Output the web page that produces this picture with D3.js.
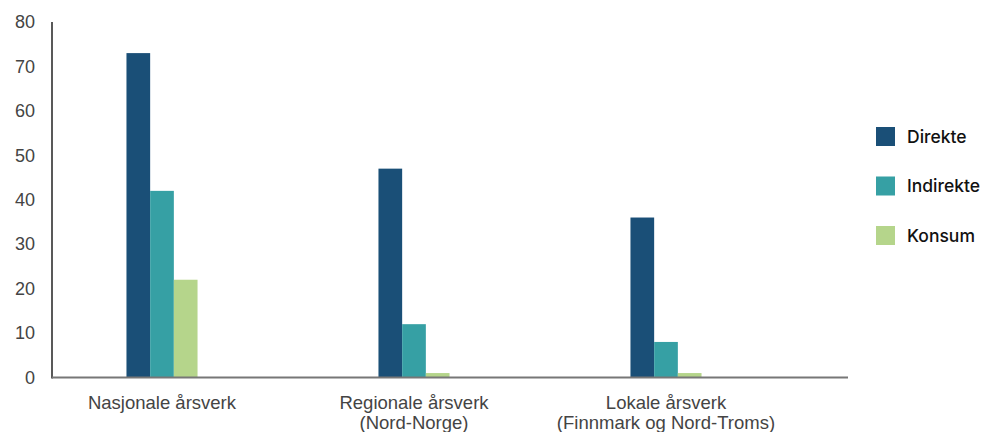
<!DOCTYPE html>
<html>
<head>
<meta charset="utf-8">
<script src="https://cdn.jsdelivr.net/npm/d3@7"></script>
<style>
  html, body { margin: 0; padding: 0; background: #fff; }
  svg { display: block; }
</style>
</head>
<body>
<div id="chart"></div>
<script>
// ---- data ----
const categories = [
  ["Nasjonale årsverk"],
  ["Regionale årsverk", "(Nord-Norge)"],
  ["Lokale årsverk", "(Finnmark og Nord-Troms)"]
];
const seriesNames = ["Direkte", "Indirekte", "Konsum"];
const direkte   = [73, 47, 36];
const indirekte = [42, 12, 8];
const konsum    = [22, 1, 1];
const yTicks = [0, 10, 20, 30, 40, 50, 60, 70, 80];
const colors = ["#1a4f77", "#36a0a4", "#b5d58b"];

const seriesValues = [direkte, indirekte, konsum];
const catKeys = categories.map(c => c.join(" "));
const rows = catKeys.map((k, i) => ({
  key: k, lines: categories[i],
  values: seriesNames.map((s, j) => ({ series: s, value: seriesValues[j][i], color: colors[j] }))
}));

const W = 983, H = 432;
const svg = d3.select("#chart").append("svg").attr("width", W).attr("height", H);

const plotLeft = 52, plotRight = 848;
const y = d3.scaleLinear().domain([0, 80]).range([377.5, 22]);
const x0 = d3.scaleBand().domain(catKeys).range([36, 792]).padding(0);
const groupW = x0.bandwidth() * 0.282;
const x1 = d3.scaleBand().domain(seriesNames).range([0, groupW]).padding(0);

// bars
const g = svg.append("g");
g.selectAll("g.grp").data(rows).join("g")
  .attr("class", "grp")
  .attr("transform", d => `translate(${x0(d.key) + (x0.bandwidth() - groupW) / 2},0)`)
  .selectAll("rect").data(d => d.values).join("rect")
  .attr("x", d => x1(d.series))
  .attr("width", x1.bandwidth())
  .attr("y", d => y(d.value))
  .attr("height", d => y(0) - y(d.value))
  .attr("fill", d => d.color);

// y axis
const yAxis = d3.axisLeft(y).tickValues(yTicks).tickSize(0).tickPadding(17);
const ya = svg.append("g").attr("transform", `translate(${plotLeft},0)`).call(yAxis);
ya.select(".domain").remove();
ya.selectAll("text")
  .attr("font-family", "'Liberation Sans', Arial, sans-serif")
  .attr("font-size", 18).attr("fill", "#444");
svg.append("line")
  .attr("x1", plotLeft).attr("x2", plotLeft)
  .attr("y1", y(80)).attr("y2", y(0) + 1)
  .attr("stroke", "#222").attr("stroke-width", 1.5);

// x axis line
svg.append("line")
  .attr("x1", plotLeft).attr("x2", plotRight)
  .attr("y1", y(0)).attr("y2", y(0))
  .attr("stroke", "#777").attr("stroke-width", 2);

// x labels
const xl = svg.append("g");
rows.forEach(r => {
  const t = xl.append("text")
    .attr("x", x0(r.key) + x0.bandwidth() / 2)
    .attr("y", 409)
    .attr("text-anchor", "middle")
    .attr("font-family", "'Liberation Sans', Arial, sans-serif")
    .attr("font-size", 18.5).attr("fill", "#444");
  r.lines.forEach((l, i) => {
    t.append("tspan").attr("x", x0(r.key) + x0.bandwidth() / 2)
      .attr("dy", i === 0 ? 0 : 19.5).text(l);
  });
});

// legend
const leg = svg.append("g").attr("transform", "translate(876,127)");
const li = leg.selectAll("g").data(seriesNames).join("g")
  .attr("transform", (d, i) => `translate(0,${i * 49.5})`);
li.append("rect").attr("width", 19).attr("height", 19).attr("fill", (d, i) => colors[i]);
li.append("text").attr("x", 31).attr("y", 9.5).attr("dy", "0.35em")
  .attr("font-family", "Inter, 'Noto Sans', sans-serif")
  .attr("font-weight", 500).attr("font-size", 17.5).attr("fill", "#111")
  .text(d => d);
</script>
</body>
</html>
